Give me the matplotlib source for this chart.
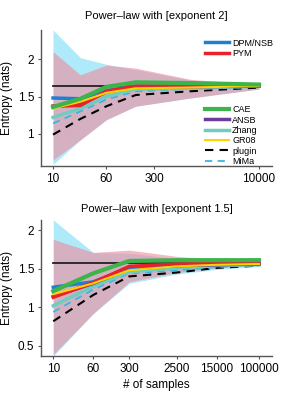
import numpy as np
import matplotlib
matplotlib.use('Agg')
import matplotlib.pyplot as plt

plt.rcParams['font.family'] = ['Liberation Sans', 'DejaVu Sans']

# ---- top panel: exponent 2 ----
n_top = [10, 25, 60, 160, 1000, 10000]
true_top = 1.644
cae_top = [1.36, 1.47, 1.63, 1.69, 1.68, 1.66]
dpm_top = [1.48, 1.47, 1.58, 1.64, 1.64, 1.65]
pym_top = [1.37, 1.38, 1.57, 1.64, 1.64, 1.65]
ansb_top = [1.37, 1.40, 1.56, 1.63, 1.63, 1.64]
gr08_top = [1.34, 1.43, 1.55, 1.61, 1.62, 1.64]
zhang_top = [1.22, 1.34, 1.50, 1.60, 1.61, 1.64]
mima_top = [1.14, 1.30, 1.46, 1.57, 1.60, 1.63]
plugin_top = [0.99, 1.20, 1.37, 1.52, 1.57, 1.62]
dpm_hi_top = [2.39, 2.02, 1.93, 1.86, 1.72, 1.65]
dpm_lo_top = [0.59, 0.92, 1.19, 1.37, 1.48, 1.60]
pym_hi_top = [2.10, 1.79, 1.92, 1.88, 1.73, 1.66]
pym_lo_top = [0.65, 0.92, 1.19, 1.37, 1.48, 1.60]

# ---- bottom panel: exponent 1.5 ----
n_bot = [10, 60, 300, 2500, 15000, 100000]
true_bot = 1.58
cae_bot = [1.21, 1.44, 1.60, 1.61, 1.61, 1.61]
dpm_bot = [1.26, 1.33, 1.51, 1.54, 1.56, 1.57]
pym_bot = [1.13, 1.32, 1.53, 1.56, 1.57, 1.57]
ansb_bot = [1.14, 1.31, 1.50, 1.54, 1.55, 1.56]
gr08_bot = [1.17, 1.31, 1.48, 1.53, 1.55, 1.56]
zhang_bot = [1.02, 1.27, 1.46, 1.51, 1.54, 1.55]
mima_bot = [0.94, 1.23, 1.44, 1.48, 1.52, 1.55]
plugin_bot = [0.82, 1.16, 1.40, 1.45, 1.51, 1.54]
dpm_hi_bot = [2.13, 1.71, 1.70, 1.63, 1.61, 1.59]
dpm_lo_bot = [0.37, 0.92, 1.31, 1.43, 1.49, 1.53]
pym_hi_bot = [1.88, 1.71, 1.74, 1.66, 1.62, 1.60]
pym_lo_bot = [0.39, 0.92, 1.33, 1.45, 1.51, 1.55]

C_DPM = '#1f7fd0'
C_PYM = '#e8212b'
C_CAE = '#3cb44b'
C_ANSB = '#6a3d9a'
C_ZHANG = '#6fcdc0'
C_GR08 = '#ffd200'
C_MIMA = '#3ab4e6'


def panel(ax, n, true, cae, dpm, pym, ansb, gr08, zhang, mima, plugin,
          dhi, dlo, phi, plo):
    ax.fill_between(n, dlo, dhi, color='#aeeafa', lw=0, zorder=1)
    ax.fill_between(n, plo, phi, color='#f08a9c', alpha=0.6, lw=0, zorder=2)
    ax.plot([n[0], n[-1]], [true, true], color='#222222', lw=1.3, zorder=3)
    ax.plot(n, plugin, color='black', lw=1.5, ls=(0, (4, 3)), zorder=4, label='plugin')
    ax.plot(n, mima, color=C_MIMA, lw=1.3, ls=(0, (4, 3)), zorder=5, label='MiMa')
    ax.plot(n, zhang, color=C_ZHANG, lw=2.5, zorder=6, label='Zhang')
    ax.plot(n, ansb, color=C_ANSB, lw=2.5, zorder=6, label='ANSB')
    ax.plot(n, dpm, color=C_DPM, lw=2.5, zorder=7, label='DPM/NSB')
    ax.plot(n, pym, color=C_PYM, lw=2.5, zorder=8, label='PYM')
    ax.plot(n, gr08, color=C_GR08, lw=1.5, zorder=9, label='GR08')
    ax.plot(n, cae, color=C_CAE, lw=3, zorder=10, label='CAE')
    ax.set_xscale('log')
    ax.xaxis.set_minor_locator(matplotlib.ticker.NullLocator())
    for s in ['top', 'right']:
        ax.spines[s].set_visible(False)
    for s in ['left', 'bottom']:
        ax.spines[s].set_color('#555555')
        ax.spines[s].set_linewidth(1.0)
    ax.tick_params(direction='out', length=2, width=0.8, labelsize=8.5, pad=3,
                   color='#555555')
    ax.set_ylabel('Entropy (nats)', fontsize=8.5, labelpad=3)


fig = plt.figure(figsize=(3, 4), dpi=100)
ax1 = fig.add_axes([0.137, 0.585, 0.77, 0.34])
ax2 = fig.add_axes([0.137, 0.11, 0.77, 0.34])

panel(ax1, n_top, true_top, cae_top, dpm_top, pym_top, ansb_top, gr08_top,
      zhang_top, mima_top, plugin_top, dpm_hi_top, dpm_lo_top, pym_hi_top, pym_lo_top)
panel(ax2, n_bot, true_bot, cae_bot, dpm_bot, pym_bot, ansb_bot, gr08_bot,
      zhang_bot, mima_bot, plugin_bot, dpm_hi_bot, dpm_lo_bot, pym_hi_bot, pym_lo_bot)

ax1.set_xlim(6.7, 15500)
ax1.set_ylim(0.57, 2.39)
ax1.set_xticks([10, 60, 300, 10000])
ax1.set_xticklabels(['10', '60', '300', '10000'])
ax1.set_yticks([1, 1.5, 2])
ax1.set_yticklabels(['1', '1.5', '2'])
ax1.set_title('Power\u2013law with [exponent 2]', fontsize=8, pad=8)

ax2.set_xlim(5.8, 180000)
ax2.set_ylim(0.37, 2.13)
ax2.set_xticks(n_bot)
ax2.set_xticklabels([str(v) for v in n_bot])
ax2.set_yticks([0.5, 1, 1.5, 2])
ax2.set_yticklabels(['0.5', '1', '1.5', '2'])
ax2.set_title('Power\u2013law with [exponent 1.5]', fontsize=8, pad=6)
ax2.set_xlabel('# of samples', fontsize=8.5, labelpad=3)

h, l = ax1.get_legend_handles_labels()
hd = dict(zip(l, h))
leg1 = ax1.legend([hd['DPM/NSB'], hd['PYM']], ['DPM/NSB', 'PYM'],
                  loc='upper left', bbox_to_anchor=(0.69, 0.97), frameon=False,
                  fontsize=6.5, handlelength=2.7, handletextpad=0.3,
                  labelspacing=0.15, borderpad=0)
ax1.add_artist(leg1)
names = ['CAE', 'ANSB', 'Zhang', 'GR08', 'plugin', 'MiMa']
ax1.legend([hd[k] for k in names], names, loc='upper left',
           bbox_to_anchor=(0.69, 0.48), frameon=False, fontsize=6.5,
           handlelength=2.7, handletextpad=0.3, labelspacing=0.15, borderpad=0)

fig.savefig('out.png', dpi=100)
